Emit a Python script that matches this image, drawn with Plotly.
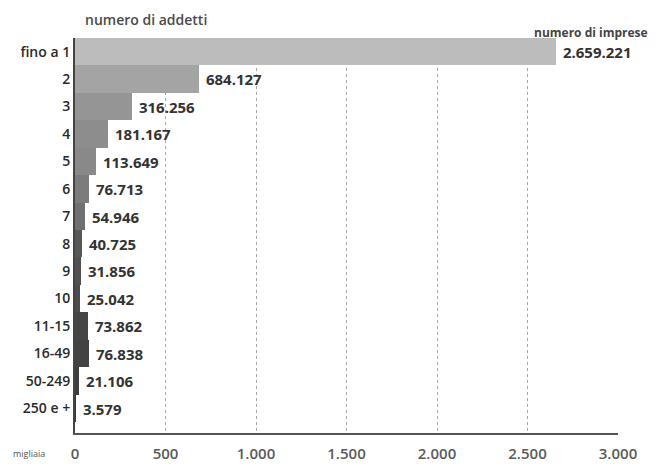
import plotly.graph_objects as go

categorie = ["fino a 1", "2", "3", "4", "5", "6", "7", "8", "9", "10",
             "11-15", "16-49", "50-249", "250 e +"]
imprese = [2659221, 684127, 316256, 181167, 113649, 76713, 54946,
           40725, 31856, 25042, 73862, 76838, 21106, 3579]
tick_vals = [0, 500, 1000, 1500, 2000, 2500, 3000]
tick_text = ["0", "500", "1.000", "1.500", "2.000", "2.500", "3.000"]

colori = ["#bcbcbc", "#a4a4a4", "#959595", "#8d8d8d", "#898989", "#7c7c7c",
          "#707070", "#575757", "#515151", "#4c4c4c", "#454545", "#434343",
          "#3d3d3d", "#363636"]

def fmt(v):
    return "\u00a0" + f"{v:,}".replace(",", ".")

fig = go.Figure(go.Bar(
    y=categorie,
    x=[v / 1000 for v in imprese],
    orientation="h",
    marker=dict(color=colori, line=dict(width=0)),
    text=[fmt(v) for v in imprese],
    textposition="outside",
    textfont=dict(family="Open Sans", size=15, color="#333333", weight="bold"),
    cliponaxis=False,
    hoverinfo="skip",
))

fig.update_layout(
    width=654, height=463,
    margin=dict(l=67, r=44, t=30, b=38, autoexpand=False),
    paper_bgcolor="white", plot_bgcolor="white",
    bargap=0,
    showlegend=False,
    font=dict(family="Open Sans", color="#444444"),
)
fig.update_xaxes(
    range=[0, 3000], automargin=False,
    tickvals=tick_vals, ticktext=tick_text,
    tickfont=dict(size=15, color="#5a5a5a", weight=600),
    ticklabelstandoff=6,
    showgrid=True, gridcolor="#a8a8a8", griddash="dot", gridwidth=1,
    showline=True, linecolor="#555555", linewidth=2,
    zeroline=False, ticks="", ticklen=0,
)
fig.update_yaxes(
    categoryorder="array", categoryarray=categorie,
    range=[13.9, -0.5], automargin=False,
    tickfont=dict(size=14, color="#2a2a2a", weight=600),
    showline=True, linecolor="#444444", linewidth=2,
    showgrid=False, ticks="", ticklen=0,
)
fig.add_annotation(text="numero di addetti", xref="paper", yref="paper",
                   x=0, xshift=8, y=1.0, yshift=30, xanchor="left", yanchor="top",
                   showarrow=False, font=dict(size=14, color="#4a4a4a", weight=600))
fig.add_annotation(text="numero di imprese", xref="paper", yref="paper",
                   x=1.0, xshift=32, y=1.0, yshift=6, xanchor="right", yanchor="middle",
                   showarrow=False, font=dict(size=12, color="#444444", weight="bold"))
fig.add_annotation(text="migliaia", xref="paper", yref="paper",
                   x=0, xshift=-28, y=0, yshift=-20, xanchor="right", yanchor="middle",
                   showarrow=False, font=dict(size=9, color="#555555"))

fig.write_html("out.html")
